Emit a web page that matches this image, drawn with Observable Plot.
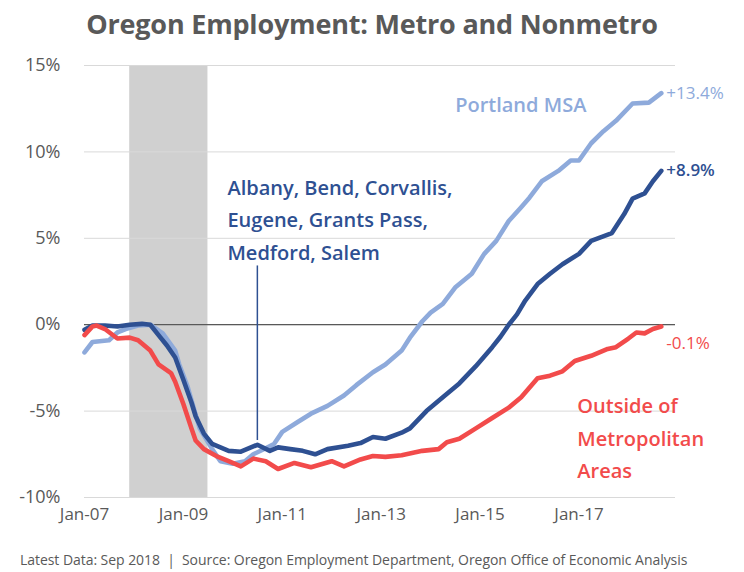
<!DOCTYPE html>
<html><head><meta charset="utf-8">
<script src="https://cdn.jsdelivr.net/npm/d3@7"></script>
<script src="https://cdn.jsdelivr.net/npm/@observablehq/plot@0.6"></script>
<style>
body{margin:0;background:#fff;font-family:"Open Sans",sans-serif;width:744px;height:572px;overflow:hidden;}
#title{height:48px;line-height:48px;text-align:center;font-size:27px;font-weight:700;color:#595959;letter-spacing:-0.2px;}
#chart svg{display:block;overflow:visible;}
#caption{font-size:14px;color:#595959;padding-left:20px;margin-top:13px;white-space:pre;letter-spacing:-0.05px;}
</style></head><body>
<div id="title">Oregon Employment: Metro and Nonmetro</div>
<div id="chart"></div>
<div id="caption">Latest Data: Sep 2018  |  Source: Oregon Employment Department, Oregon Office of Economic Analysis</div>
<script>
// Portland MSA (% change)
const portlandMonths = ["2007-01","2007-03","2007-07","2007-09","2007-11","2008-02","2008-05","2008-08","2008-11","2008-12","2009-02","2009-04","2009-05","2009-08","2009-10","2010-01","2010-04","2010-06","2010-09","2010-11","2011-01","2011-05","2011-08","2011-12","2012-04","2012-07","2012-11","2013-02","2013-06","2013-08","2013-11","2014-01","2014-04","2014-07","2014-11","2015-02","2015-05","2015-08","2015-11","2016-01","2016-04","2016-08","2016-11","2017-01","2017-04","2017-07","2017-10","2018-02","2018-06","2018-09"];
const portlandValues = [-1.6,-1.0,-0.9,-0.45,-0.25,-0.05,0.0,-0.5,-1.5,-2.3,-3.6,-5.2,-6.0,-7.2,-7.9,-8.05,-7.9,-7.5,-7.15,-6.9,-6.2,-5.6,-5.15,-4.7,-4.1,-3.5,-2.75,-2.3,-1.5,-0.75,0.2,0.7,1.2,2.15,2.95,4.1,4.85,6.0,6.8,7.35,8.3,8.9,9.5,9.5,10.5,11.2,11.8,12.8,12.85,13.4];

// Albany, Bend, Corvallis, Eugene, Grants Pass, Medford, Salem
const otherMetroMonths = ["2007-01","2007-03","2007-06","2007-09","2007-12","2008-03","2008-05","2008-07","2008-09","2008-11","2009-01","2009-03","2009-04","2009-06","2009-08","2009-12","2010-03","2010-07","2010-10","2010-12","2011-03","2011-06","2011-09","2011-12","2012-05","2012-08","2012-11","2013-02","2013-06","2013-08","2013-12","2014-04","2014-08","2014-12","2015-04","2015-06","2015-08","2015-10","2015-12","2016-03","2016-06","2016-09","2017-01","2017-04","2017-09","2017-12","2018-02","2018-05","2018-07","2018-09"];
const otherMetroValues = [-0.3,-0.05,-0.05,-0.1,0.0,0.05,0.0,-0.6,-1.2,-1.9,-3.2,-4.5,-5.3,-6.3,-6.9,-7.3,-7.35,-6.95,-7.3,-7.1,-7.2,-7.3,-7.5,-7.2,-7.0,-6.85,-6.5,-6.6,-6.25,-6.0,-5.0,-4.2,-3.4,-2.4,-1.3,-0.7,0.0,0.6,1.4,2.35,2.95,3.5,4.1,4.85,5.3,6.4,7.3,7.6,8.3,8.9];

// Outside of Metropolitan Areas
const nonMetroMonths = ["2007-01","2007-03","2007-04","2007-06","2007-09","2007-12","2008-02","2008-05","2008-07","2008-10","2008-11","2009-01","2009-03","2009-04","2009-06","2009-09","2009-12","2010-03","2010-06","2010-09","2010-12","2011-04","2011-08","2012-01","2012-04","2012-08","2012-11","2013-02","2013-06","2013-11","2014-03","2014-05","2014-08","2014-12","2015-04","2015-08","2015-11","2016-03","2016-06","2016-09","2016-12","2017-04","2017-08","2017-10","2018-01","2018-03","2018-05","2018-07","2018-09"];
const nonMetroValues = [-0.6,-0.1,-0.05,-0.25,-0.8,-0.75,-0.9,-1.5,-2.3,-2.8,-3.3,-4.6,-6.0,-6.7,-7.2,-7.6,-7.9,-8.2,-7.75,-7.9,-8.35,-8.0,-8.25,-7.9,-8.2,-7.8,-7.6,-7.65,-7.55,-7.3,-7.2,-6.8,-6.6,-6.0,-5.4,-4.8,-4.2,-3.1,-2.95,-2.7,-2.1,-1.8,-1.4,-1.3,-0.8,-0.45,-0.5,-0.25,-0.1];

const seriesColors = ["#8eaadb", "#2e5092", "#f24b4b"];
const endLabels = ["+13.4%", "+8.9%", "-0.1%"];

const yTicks = [-10, -5, 0, 5, 10, 15];
const xTickMonths = ["2007-01","2009-01","2011-01","2013-01","2015-01","2017-01"];
const recession = [{start: "2007-12-01", end: "2009-07-01"}];

// annotation texts, anchored in data coordinates
const annotations = [
  {date: "2014-07-01", value: 12.9, text: "Portland MSA", series: 0},
  {date: "2009-11-22", value: 6.25, text: "Albany, Bend, Corvallis,\nEugene, Grants Pass,\nMedford, Salem", series: 1},
  {date: "2016-12-20", value: -6.4, text: "Outside of\nMetropolitan\nAreas", series: 2}
];
const pointer = {date: "2010-07-01", from: 3.4, to: -6.7};

const parseM = d3.utcParse("%Y-%m");
const parseD = d3.utcParse("%Y-%m-%d");
const build = (months, values, s) => months.map((m, i) => ({date: parseM(m), value: values[i], s}));
const data = [
  ...build(portlandMonths, portlandValues, 0),
  ...build(otherMetroMonths, otherMetroValues, 1),
  ...build(nonMetroMonths, nonMetroValues, 2)
];
const lastPoints = [0,1,2].map(s => { const pts = data.filter(d => d.s === s); return pts[pts.length - 1]; });
const color = s => seriesColors[s];
const endText = (s, opts) => Plot.text([lastPoints[s]], {x: "date", y: "value", text: d => endLabels[d.s], fill: color(s), textAnchor: "start", dx: 5, fontSize: 17, ...opts});

const chart = Plot.plot({
  width: 744,
  height: 489,
  marginLeft: 84,
  marginRight: 69,
  marginTop: 17,
  marginBottom: 40,
  x: {type: "utc", domain: [parseD("2007-01-01"), parseD("2018-12-15")]},
  y: {domain: [-10, 15]},
  style: {fontFamily: "Open Sans, sans-serif", color: "#595959", background: "white"},
  marks: [
    Plot.rect(recession, {x1: d => parseD(d.start), x2: d => parseD(d.end), y1: -10, y2: 15, fill: "#d0d0d0"}),
    Plot.gridY(yTicks, {stroke: "#d9d9d9", strokeOpacity: 1}),
    Plot.ruleY([0], {stroke: "#595959", strokeWidth: 1.2}),
    Plot.axisY(yTicks, {tickSize: 0, tickPadding: 24, tickFormat: d => d + "%", fontSize: 18, label: null, fill: "#595959"}),
    Plot.axisX(xTickMonths.map(parseM), {tickSize: 0, tickPadding: 10, tickFormat: d3.utcFormat("%b-%y"), fontSize: 17, label: null, fill: "#595959"}),
    Plot.ruleX([pointer], {x: d => parseD(d.date), y1: "from", y2: "to", stroke: "#2e5092", strokeWidth: 1.5}),
    Plot.line(data, {x: "date", y: "value", z: "s", stroke: d => color(d.s), strokeWidth: 4.6, strokeLinejoin: "round", strokeLinecap: "round"}),
    endText(0, {fontWeight: 400}),
    endText(1, {fontWeight: 600}),
    endText(2, {fontWeight: 400, dy: 17}),
    Plot.text(annotations, {x: d => parseD(d.date), y: "value", text: "text", fill: d => color(d.series), textAnchor: "start", lineAnchor: "middle", fontSize: 20, fontWeight: 600, lineHeight: 1.63})
  ]
});
document.getElementById("chart").appendChild(chart);
</script>
</body></html>
